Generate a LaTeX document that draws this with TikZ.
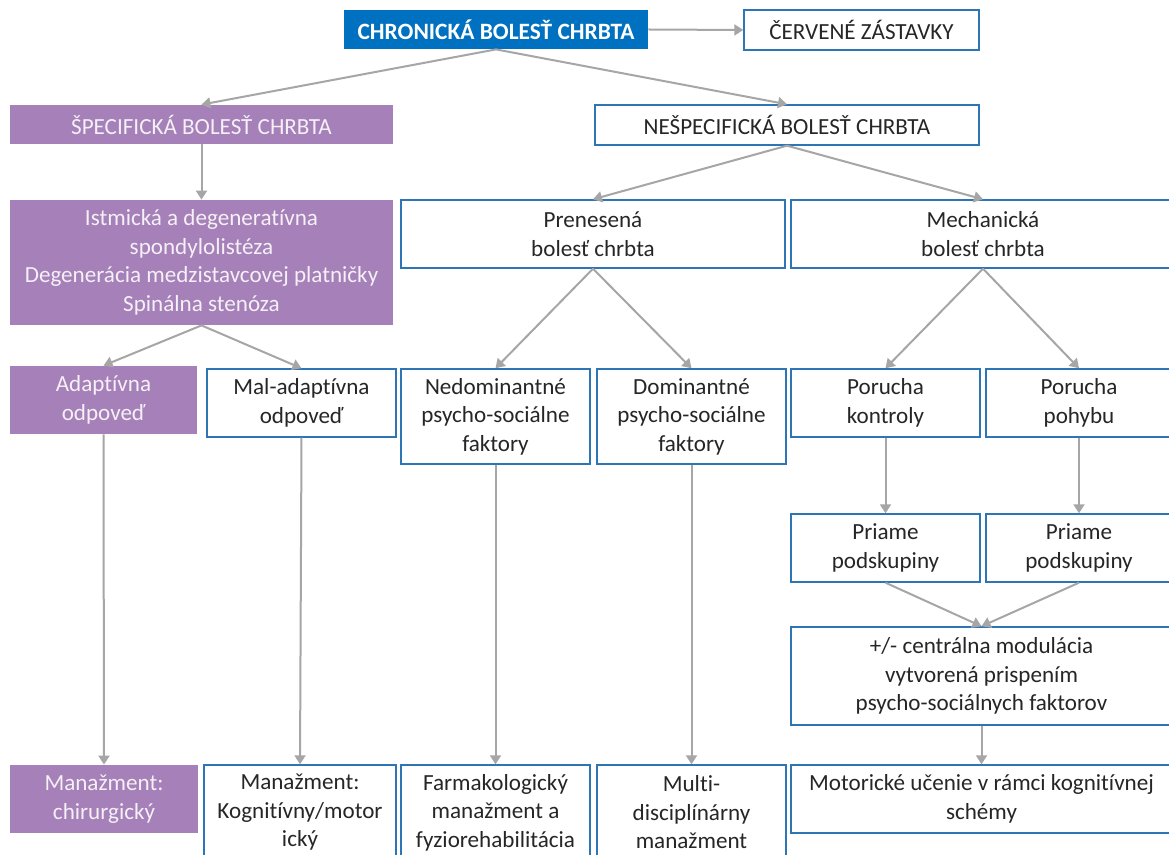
\documentclass[tikz,border=0pt]{standalone}
\usepackage{fontspec}
\setmainfont{Carlito}[Ligatures=NoCommon]
\usetikzlibrary{arrows.meta}
\definecolor{boxblue}{HTML}{2E75B6}
\definecolor{fillblue}{HTML}{0070C0}
\definecolor{purp}{HTML}{A680B8}
\definecolor{arrgray}{HTML}{A6A6A6}
\definecolor{txt}{HTML}{262626}
\definecolor{ptxt}{HTML}{F4F0F6}
\begin{document}
\begin{tikzpicture}[x=0.5pt,y=-0.5pt,
  base/.style={rectangle, inner sep=0pt, align=center, font=\fontsize{11.55}{14.25}\selectfont},
  wbox/.style={base, draw=boxblue, line width=0.7pt, fill=white, text=txt},
  pbox/.style={base, fill=purp, text=ptxt},
  bbox/.style={base, fill=fillblue, text=white, font=\bfseries\fontsize{11.7}{14.25}\selectfont},
  arr/.style={draw=arrgray, line width=1pt, -{Triangle[width=5.5pt,length=4.5pt]}}]
\clip (0,0) rectangle (1169,855);
\useasboundingbox (0,0) rectangle (1169,855);
\fill[white] (0,0) rectangle (1169,855);
% row 0
\node[bbox, minimum width=152pt, minimum height=19.5pt] (chron) at (496,29.5) {CHRONICKÁ BOLESŤ CHRBTA};
\node[wbox, minimum width=117.5pt, minimum height=20pt] (cerv) at (861.5,30) {ČERVENÉ ZÁSTAVKY};
% row 1
\node[pbox, minimum width=191.5pt, minimum height=19.5pt] (spec) at (201.5,124.5) {ŠPECIFICKÁ BOLESŤ CHRBTA};
\node[wbox, minimum width=192pt, minimum height=20pt] (nespec) at (787,125) {NEŠPECIFICKÁ BOLESŤ CHRBTA};
% row 2
\node[pbox, minimum width=191.5pt, minimum height=62.5pt] (istm) at (201.5,262.5) {Istmická a degeneratívna\\spondylolistéza\\Degenerácia medzistavcovej platničky\\Spinálna stenóza};
\node[wbox, minimum width=192pt, minimum height=34pt] (pren) at (593,234) {Prenesená\\bolesť chrbta};
\node[wbox, minimum width=192pt, minimum height=34pt] (mech) at (983,234) {Mechanická\\bolesť chrbta};
% row 3
\node[pbox, minimum width=93.5pt, minimum height=34pt] (adapt) at (103.5,400) {Adaptívna\\odpoveď};
\node[wbox, minimum width=94.5pt, minimum height=34pt] (mal) at (301.5,403) {Mal-adaptívna\\odpoveď};
\node[wbox, minimum width=94.5pt, minimum height=47.5pt] (nedom) at (495.5,416.5) {Nedominantné\\psycho-sociálne\\faktory};
\node[wbox, minimum width=94.5pt, minimum height=47.5pt] (dom) at (691.5,416.5) {Dominantné\\psycho-sociálne\\faktory};
\node[wbox, minimum width=94.5pt, minimum height=34pt] (pk) at (885.5,403) {Porucha\\kontroly};
\node[wbox, minimum width=93pt, minimum height=34pt] (pp) at (1079,403) {Porucha\\pohybu};
% row 4
\node[wbox, minimum width=94.5pt, minimum height=34pt] (pr1) at (885.5,548) {Priame\\podskupiny};
\node[wbox, minimum width=93pt, minimum height=34pt] (pr2) at (1079,548) {Priame\\podskupiny};
% row 5
\node[wbox, minimum width=190.5pt, minimum height=49pt] (cent) at (981.5,676) {+/- centrálna modulácia\\vytvorená prispením\\psycho-sociálnych faktorov};
% row 6
\node[pbox, minimum width=94pt, minimum height=34pt] (chir) at (104,799) {Manažment:\\chirurgický};
\node[wbox, minimum width=96pt, minimum height=47.5pt] (kog) at (300,812.5) {Manažment:\\Kognitívny/motor\\ický};
\node[wbox, minimum width=94.5pt, minimum height=47.5pt] (farm) at (495.5,812.5) {Farmakologický\\manažment a\\fyziorehabilitácia};
\node[wbox, minimum width=94.5pt, minimum height=47.5pt] (multi) at (691.5,812.5) {Multi-\\disciplínárny\\manažment};
\node[wbox, minimum width=190.5pt, minimum height=34pt] (mot) at (981.5,799) {Motorické učenie v rámci kognitívnej\\schémy};
% connectors
\draw[arr] (chron.east) -- (cerv.west);
\draw[arr] (chron.south) -- (spec.north);
\draw[arr] (chron.south) -- (nespec.north);
\draw[arr] (spec.south) -- (istm.north);
\draw[arr] (nespec.south) -- (pren.north);
\draw[arr] (nespec.south) -- (mech.north);
\draw[arr] (istm.south) -- (adapt.north);
\draw[arr] (istm.south) -- (mal.north);
\draw[arr] (pren.south) -- (nedom.north);
\draw[arr] (pren.south) -- (dom.north);
\draw[arr] (mech.south) -- (pk.north);
\draw[arr] (mech.south) -- (pp.north);
\draw[arr] (pk.south) -- (pr1.north);
\draw[arr] (pp.south) -- (pr2.north);
\draw[arr] (pr1.south) -- (cent.north);
\draw[arr] (pr2.south) -- (cent.north);
\draw[arr] (cent.south) -- (mot.north);
\draw[arr] (adapt.south) -- (chir.north);
\draw[arr] (mal.south) -- (kog.north);
\draw[arr] (nedom.south) -- (farm.north);
\draw[arr] (dom.south) -- (multi.north);
\end{tikzpicture}
\end{document}
